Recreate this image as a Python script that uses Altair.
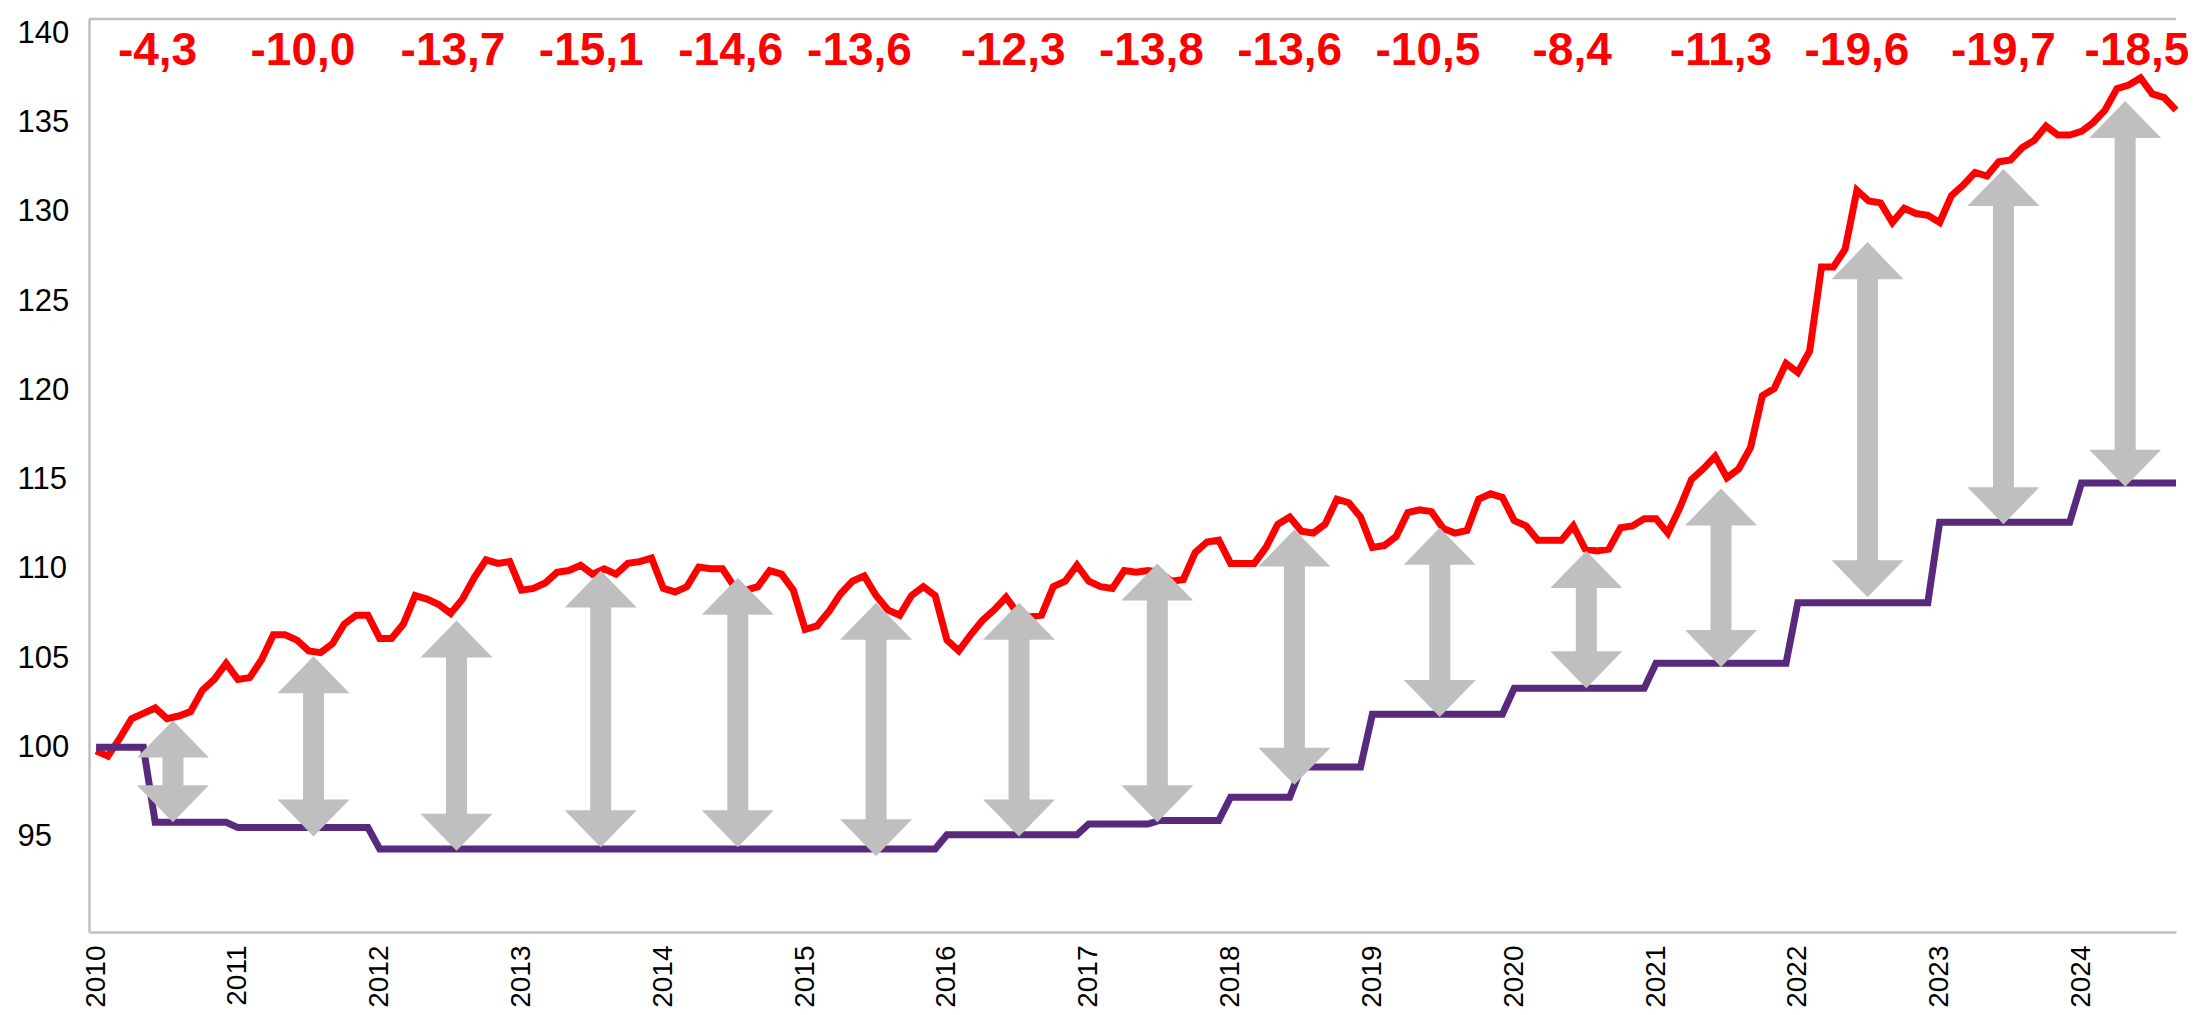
import altair as alt
import pandas as pd

# ---------------- data ----------------
start_year = 2010
# red series, monthly, Jan 2010 .. Sep 2024
red_index = [
    99.8, 99.5, 100.5, 101.6, 101.9, 102.2, 101.6, 101.75, 102.0, 103.2, 103.8, 104.7,      # 2010
    103.8, 103.9, 104.9, 106.3, 106.3, 106.0, 105.4, 105.3, 105.8, 106.9, 107.4, 107.4,     # 2011
    106.1, 106.1, 106.9, 108.5, 108.3, 108.0, 107.5, 108.3, 109.5, 110.5, 110.3, 110.4,     # 2012
    108.8, 108.9, 109.2, 109.8, 109.9, 110.2, 109.7, 110.0, 109.7, 110.3, 110.4, 110.6,     # 2013
    108.9, 108.7, 109.0, 110.1, 110.0, 110.0, 109.0, 108.8, 109.0, 109.9, 109.7, 108.8,     # 2014
    106.6, 106.8, 107.6, 108.6, 109.3, 109.6, 108.5, 107.7, 107.4, 108.5, 109.0, 108.5,     # 2015
    106.0, 105.4, 106.3, 107.1, 107.7, 108.4, 107.5, 107.3, 107.4, 109.0, 109.3, 110.2,     # 2016
    109.3, 109.0, 108.9, 109.9, 109.8, 109.9, 109.8, 109.3, 109.4, 110.9, 111.5, 111.6,     # 2017
    110.3, 110.3, 110.3, 111.2, 112.5, 112.9, 112.1, 112.0, 112.5, 113.9, 113.7, 112.9,     # 2018
    111.2, 111.3, 111.8, 113.15, 113.3, 113.2, 112.25, 112.0, 112.15, 113.9, 114.2, 114.0,  # 2019
    112.7, 112.4, 111.6, 111.6, 111.6, 112.4, 111.1, 111.0, 111.1, 112.3, 112.4, 112.8,     # 2020
    112.8, 112.0, 113.4, 115.0, 115.6, 116.3, 115.1, 115.6, 116.8, 119.7, 120.1, 121.5,     # 2021
    121.0, 122.2, 126.9, 126.9, 127.9, 131.2, 130.6, 130.5, 129.4, 130.2, 129.9, 129.8,     # 2022
    129.4, 130.9, 131.5, 132.2, 132.0, 132.8, 132.9, 133.6, 134.0, 134.8, 134.3, 134.3,     # 2023
    134.5, 135.0, 135.7, 136.9, 137.1, 137.5, 136.6, 136.4, 135.7,                          # 2024
]
# purple series (stepwise), monthly
purple_index = (
    [100.0] * 5 + [95.8] * 7      # 2010
    + [95.5] * 12                 # 2011
    + [94.3] * 48                 # 2012-2015
    + [95.1] * 12                 # 2016
    + [95.7] * 6 + [95.9] * 6     # 2017
    + [97.2] * 6 + [98.9] * 6     # 2018
    + [101.85] * 12               # 2019
    + [103.3] * 12                # 2020
    + [104.7] * 12                # 2021
    + [108.1] * 12                # 2022
    + [112.6] * 12                # 2023
    + [114.8] * 9                 # 2024
)
month_index = list(range(len(red_index)))

# double arrows: month position, top tip value, bottom tip value
arrow_month = [6.5, 18.4, 30.5, 42.7, 54.3, 66.0, 78.1, 89.8, 101.4, 113.7, 126.1, 137.5, 149.9, 161.4, 171.7]
arrow_top = [101.5, 105.1, 107.1, 109.9, 109.5, 108.1, 108.1, 110.3, 112.2, 112.3, 111.0, 114.5, 128.3, 132.4, 136.2]
arrow_bottom = [95.8, 95.0, 94.2, 94.4, 94.4, 93.9, 95.0, 95.8, 97.9, 101.7, 103.3, 104.5, 108.4, 112.5, 114.6]

# gap labels at the top
gap_labels = ["-4,3", "-10,0", "-13,7", "-15,1", "-14,6", "-13,6", "-12,3", "-13,8",
              "-13,6", "-10,5", "-8,4", "-11,3", "-19,6", "-19,7", "-18,5"]
label_month = [5.2, 17.5, 30.2, 41.9, 53.7, 64.6, 77.6, 89.3, 101.0, 112.7, 124.9, 137.5, 149.0, 161.4, 172.7]
label_level = 138.25

year_ticks = [0, 12, 24, 36, 48, 60, 72, 84, 96, 108, 120, 132, 144, 156, 168]
y_ticks = [95, 100, 105, 110, 115, 120, 125, 130, 135, 140]

# ---------------- chart ----------------
W, H = 2087, 913
RED = "#FF0000"
PURPLE = "#59297D"
GREY = "#BFBFBF"
AXIS_GREY = "#BFBFBF"
AXIS_FONT = "'Liberation Sans', Arial, sans-serif"
BOLD = "'Liberation Sans', Arial, sans-serif"

series = pd.DataFrame({"m": month_index, "red": red_index, "purple": purple_index})
arrows = pd.DataFrame({"m": arrow_month, "top": arrow_top, "bottom": arrow_bottom})
labels = pd.DataFrame({"m": label_month, "txt": gap_labels, "lvl": [label_level] * len(gap_labels)})

xscale = alt.Scale(domain=[-0.6, 176], nice=False, zero=False)
yscale = alt.Scale(domain=[89.65, 140.8], nice=False, zero=False)

xaxis = alt.Axis(
    values=year_ticks,
    labelExpr=f"toString({start_year} + floor(datum.value / 12))",
    labelAngle=270, labelAlign="right", labelBaseline="middle",
    labelPadding=13, labelFlush=False, labelOverlap=False,
)
yaxis = alt.Axis(
    values=y_ticks,
    labelAlign="left", labelBaseline="middle", labelPadding=72,
    labelOverlap=False, labelFlush=False,
)


def X(field, axis=None):
    if axis is None:
        return alt.X(field, scale=xscale, title=None)
    return alt.X(field, scale=xscale, axis=axis, title=None)


def Y(field, axis=None):
    if axis is None:
        return alt.Y(field, scale=yscale, title=None)
    return alt.Y(field, scale=yscale, axis=axis, title=None)


red_line = alt.Chart(series).mark_line(color=RED, strokeWidth=7).encode(
    x=X("m:Q", xaxis), y=Y("red:Q", yaxis),
)
purple_line = alt.Chart(series).mark_line(color=PURPLE, strokeWidth=7).encode(
    x=X("m:Q"), y=Y("purple:Q"),
)

UP_HEAD = "M0,0L1,1.028L-1,1.028Z"
DOWN_HEAD = "M0,0L1,-1.028L-1,-1.028Z"

shaft = alt.Chart(arrows).mark_rule(
    color=GREY, strokeWidth=21, yOffset=30, y2Offset=-30, strokeCap="butt"
).encode(
    x=X("m:Q"), y=Y("top:Q"), y2="bottom:Q",
)
head_up = alt.Chart(arrows).mark_point(
    shape=UP_HEAD, filled=True, size=5184, color=GREY, opacity=1, strokeWidth=0
).encode(x=X("m:Q"), y=Y("top:Q"))
head_down = alt.Chart(arrows).mark_point(
    shape=DOWN_HEAD, filled=True, size=5184, color=GREY, opacity=1, strokeWidth=0
).encode(x=X("m:Q"), y=Y("bottom:Q"))

text = alt.Chart(labels).mark_text(
    font=BOLD, fontWeight="bold", fontSize=46, color=RED,
    baseline="alphabetic", align="center",
).encode(x=X("m:Q"), y=Y("lvl:Q"), text="txt:N")

top_frame = alt.Chart(pd.DataFrame({"a": [0]})).mark_rule(
    color=AXIS_GREY, strokeWidth=2.5
).encode(x=alt.value(0), x2=alt.value(W), y=alt.value(0))

chart = alt.layer(
    red_line, purple_line, shaft, head_up, head_down, text, top_frame
).properties(
    width=W, height=H,
    autosize=alt.AutoSizeParams(type="none"),
    padding={"left": 81, "top": 11, "right": 12, "bottom": 75},
    background="white",
).configure_view(
    stroke=None
).configure_axis(
    labelFont=AXIS_FONT, labelColor="#000000",
    ticks=False, tickSize=0, grid=False,
    domainColor=AXIS_GREY, domainWidth=2.5, title=None,
).configure_axisX(
    labelFontSize=28,
).configure_axisY(
    labelFontSize=31,
)

chart.save("out.html", embed_options={"renderer": "svg", "actions": False})
